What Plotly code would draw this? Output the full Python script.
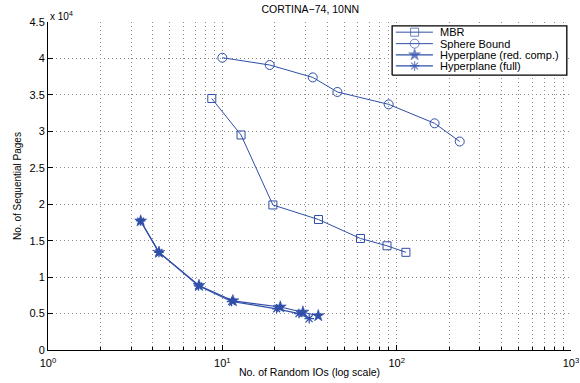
import plotly.graph_objects as go

# Data
mbr_x = [8.7, 12.8, 19.5, 35.6, 62, 88, 113]
mbr_y = [34500, 29500, 19900, 17900, 15300, 14300, 13400]

sph_x = [10.0, 18.7, 33, 45.7, 90, 165, 230]
sph_y = [40100, 39100, 37400, 35400, 33700, 31100, 28600]

hrc_x = [3.4, 4.33, 7.35, 11.5, 21.5, 29, 35.5]
hrc_y = [17700, 13400, 8850, 6750, 5900, 5200, 4700]

hfull_x = [3.4, 4.33, 7.3, 11.3, 20.5, 27.5, 31.5]
hfull_y = [17700, 13400, 8800, 6650, 5650, 5000, 4300]

series_names = ["MBR", "Sphere Bound", "Hyperplane (red. comp.)", "Hyperplane (full)"]

xticks = [1, 10, 100, 1000]
xticktext = ["10<sup>0</sup>", "10<sup>1</sup>", "10<sup>2</sup>", "10<sup>3</sup>"]
yticks = [0, 5000, 10000, 15000, 20000, 25000, 30000, 35000, 40000, 45000]
yticktext = ["0", "0.5", "1", "1.5", "2", "2.5", "3", "3.5", "4", "4.5"]

C = "#2f4fa8"
FONT = "Liberation Sans, Arial, sans-serif"

styles = [
    dict(symbol="square-open", size=8, lw=1.0, mlw=1.0),
    dict(symbol="circle-open", size=9, lw=1.0, mlw=1.0),
    dict(symbol="star", size=9, lw=1.2, mlw=0.6),
    dict(symbol="asterisk-open", size=8, lw=1.2, mlw=1.2),
]
data = [(mbr_x, mbr_y), (sph_x, sph_y), (hrc_x, hrc_y), (hfull_x, hfull_y)]

fig = go.Figure()
for (xs, ys), nm, st in zip(data, series_names, styles):
    fig.add_trace(go.Scatter(x=xs, y=ys, name=nm, mode="lines+markers",
                             line=dict(color=C, width=st["lw"]),
                             marker=dict(symbol=st["symbol"], size=st["size"], color=C,
                                         line=dict(width=st["mlw"], color=C)),
                             showlegend=False))

# ---- hand-drawn legend on an overlay axis (0..1 over plot area) ----
box_x0, box_x1, box_y0, box_y1 = 0.658, 0.992, 0.838, 0.988
fig.add_trace(go.Scatter(x=[box_x0, box_x1, box_x1, box_x0, box_x0],
                         y=[box_y0, box_y0, box_y1, box_y1, box_y0],
                         xaxis="x2", yaxis="y2", mode="lines", fill="toself",
                         fillcolor="white", line=dict(color="black", width=1.3),
                         hoverinfo="skip", showlegend=False))
row_y = [0.969, 0.934, 0.900, 0.866]
lx0, lxm, lx1, tx = 0.665, 0.701, 0.736, 0.745
for ry, nm, st in zip(row_y, series_names, styles):
    fig.add_trace(go.Scatter(x=[lx0, lxm, lx1], y=[ry, ry, ry], xaxis="x2", yaxis="y2",
                             mode="lines+markers",
                             line=dict(color=C, width=st["lw"]),
                             marker=dict(symbol=st["symbol"], size=[0, st["size"], 0], color=C,
                                         line=dict(width=st["mlw"], color=C)),
                             hoverinfo="skip", showlegend=False))
    fig.add_annotation(text=nm, xref="x2", yref="y2", x=tx, y=ry, xanchor="left",
                       yanchor="middle", showarrow=False, font=dict(size=11, color="black"))

GRID = "#8a8a8a"
fig.update_layout(
    width=580, height=383,
    margin=dict(l=48, r=9, t=22, b=33),
    paper_bgcolor="white", plot_bgcolor="white",
    font=dict(family=FONT, size=11, color="black"),
    title=dict(text="CORTINA−74, 10NN", x=0.535, xanchor="center", y=0.985, yanchor="top",
               font=dict(size=10.5)),
    showlegend=False,
    xaxis=dict(type="log", range=[0, 3], tickvals=xticks, ticktext=xticktext,
               showline=True, linecolor="black", linewidth=1, automargin=False,
               ticks="inside", ticklen=5, tickcolor="black", ticklabelstandoff=3,
               showgrid=True, gridcolor=GRID, griddash="1px,3px", gridwidth=1,
               minor=dict(dtick="D1", ticks="inside", ticklen=3, tickcolor="black",
                          showgrid=True, gridcolor=GRID, griddash="1px,3px", gridwidth=1),
               zeroline=False, tickfont=dict(size=11),
               title=dict(text="No. of Random IOs (log scale)", font=dict(size=10.5), standoff=0)),
    yaxis=dict(range=[0, 45000], tickvals=yticks, ticktext=yticktext,
               showline=True, linecolor="black", linewidth=1, automargin=False,
               ticks="inside", ticklen=5, tickcolor="black",
               showgrid=True, gridcolor=GRID, griddash="1px,3px", gridwidth=1,
               zeroline=False, tickfont=dict(size=11),
               title=dict(text="No. of Sequential Pages", font=dict(size=10), standoff=6)),
    xaxis2=dict(overlaying="x", range=[0, 1], visible=False, fixedrange=True),
    yaxis2=dict(overlaying="y", range=[0, 1], visible=False, fixedrange=True),
)

fig.add_annotation(text="x 10<sup>4</sup>", xref="paper", yref="paper", x=0.0, y=1.0,
                   xanchor="left", yanchor="bottom", showarrow=False, font=dict(size=10),
                   yshift=-2)

fig.write_html("out.html")
